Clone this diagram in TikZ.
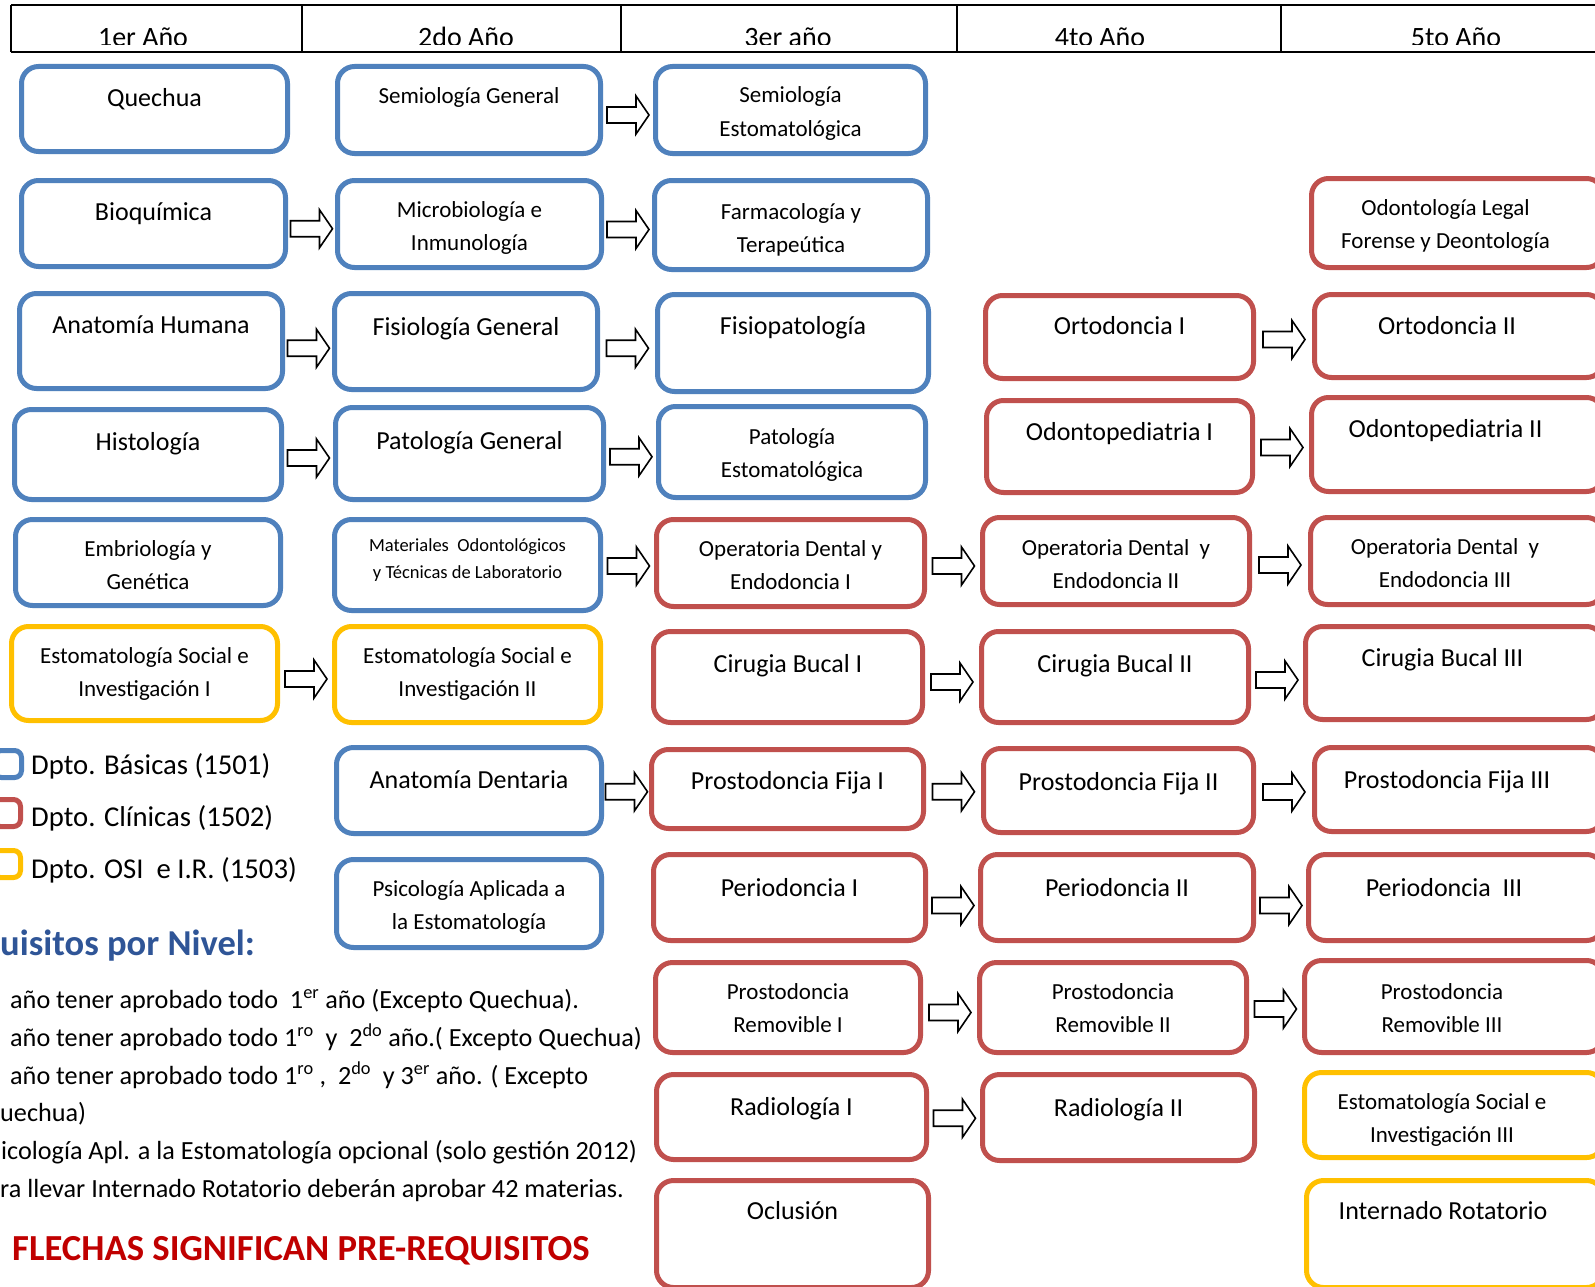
\documentclass[tikz,border=0pt]{standalone}
\usepackage{fontspec}
\setmainfont{Carlito}
\usetikzlibrary{calc}
\definecolor{azul}{HTML}{4F81BD}
\definecolor{rojo}{HTML}{C0504D}
\definecolor{amarillo}{HTML}{FFC000}
\definecolor{titulo}{HTML}{2F5597}
\definecolor{rojotexto}{HTML}{C00000}
\newcommand\corre{\hspace*{-24pt}}

\begin{document}
\begin{tikzpicture}[x=1pt,y=-1pt,
    caja/.style={draw,line width=5pt,rounded corners=17pt,fill=white,inner sep=0pt,align=center,font=\fontsize{23}{33}\selectfont},
    basica/.style={caja,draw=azul},
    clinica/.style={caja,draw=rojo},
    osi/.style={caja,draw=amarillo},
    grande/.style={font=\fontsize{26}{33}\selectfont},
    arriba/.style={text height=19pt,text depth=#1},
    arriba/.default=26pt,
    dos/.style={text height=#1,text depth=6pt},
    dos/.default=58pt,
    flecha/.pic={\draw[black,line width=1.6pt,fill=white,line join=miter] (-21,-8) -- (8,-8) -- (8,-19) -- (21,0) -- (8,19) -- (8,8) -- (-21,8) -- cycle;},
    encabezado/.style={anchor=base,inner sep=0pt,font=\fontsize{28}{34}\selectfont},
    leyenda/.style={anchor=base west,inner sep=0pt,font=\fontsize{28.7}{34}\selectfont},
    requisito/.style={anchor=base west,inner sep=0pt,font=\fontsize{26.2}{34}\selectfont}]
    \useasboundingbox (0,0) rectangle (1595,1287);
    \fill[white] (0,0) rectangle (1595,1287);
    \draw[line width=2pt] (11,5) -- (1600,5);
    \draw[line width=2pt] (11,52) -- (1600,52);
    \draw[line width=1.5pt] (11,5) -- (11,52);
    \draw[line width=1.5pt] (302,5) -- (302,52);
    \draw[line width=1.5pt] (621,5) -- (621,52);
    \draw[line width=1.5pt] (957,5) -- (957,52);
    \draw[line width=1.5pt] (1281,5) -- (1281,52);
    \begin{scope}
    \clip (11,5) rectangle (1595,45);
    \node[encabezado] (anio1) at (143,47) {1er Año};
    \node[encabezado] (anio2) at (466,47) {2do Año};
    \node[encabezado] (anio3) at (788,47) {3er año};
    \node[encabezado] (anio4) at (1100,47) {4to Año};
    \node[encabezado] (anio5) at (1456,47) {5to Año};
    \end{scope}
    \node[basica,grande,arriba=24pt,minimum width=266pt,minimum height=85pt] (quechua) at (154.5,109) {Quechua};
    \node[basica,grande,arriba=26pt,minimum width=264pt,minimum height=86pt] (bioquimica) at (153.5,223.5) {Bioquímica};
    \node[basica,grande,arriba=34pt,minimum width=263pt,minimum height=95pt] (anatomia) at (151,341) {Anatomía Humana};
    \node[basica,grande,arriba=28pt,minimum width=267pt,minimum height=90pt] (histologia) at (148,454.5) {Histología};
    \node[basica,dos=60pt,minimum width=265pt,minimum height=86pt] (embriologia) at (148,562.5) {Embriología y\\Genética};
    \node[osi,dos=52pt,minimum width=266pt,minimum height=94pt] (estsocial1) at (144.5,673.5) {Estomatología Social e\\Investigación I};
    \node[basica,arriba=32pt,minimum width=263pt,minimum height=87pt] (semiologia) at (469,110) {Semiología General};
    \node[basica,dos,minimum width=264pt,minimum height=87pt] (microbiologia) at (469.5,224) {Microbiología e\\Inmunología};
    \node[basica,grande,arriba=32pt,minimum width=263pt,minimum height=96pt] (fisiologia) at (466,341.5) {Fisiología General};
    \node[basica,grande,arriba=28pt,minimum width=268pt,minimum height=92pt] (patologia) at (469.5,453.5) {Patología General};
    \node[basica,font=\fontsize{18.5}{27}\selectfont,execute at end node={\rule[-12pt]{0pt}{0pt}},minimum width=266pt,minimum height=91pt] (materiales) at (467.5,565) {Materiales\ \ Odontológicos\\y Técnicas de Laboratorio};
    \node[osi,dos=50pt,minimum width=266pt,minimum height=96pt] (estsocial2) at (467.5,674.5) {Estomatología Social e\\Investigación II};
    \node[basica,grande,arriba=24pt,minimum width=265pt,minimum height=86pt] (anatdentaria) at (469,790.5) {Anatomía Dentaria};
    \node[basica,dos,minimum width=265pt,minimum height=88pt] (psicologia) at (469,903.5) {Psicología Aplicada a\\la Estomatología};
    \node[basica,dos,minimum width=270pt,minimum height=87pt] (semioestoma) at (790.5,110) {Semiología\\Estomatológica};
    \node[basica,dos=61pt,minimum width=273pt,minimum height=89pt] (farmacologia) at (791,225) {Farmacología y\\Terapeútica};
    \node[basica,grande,arriba=36pt,minimum width=271pt,minimum height=97pt] (fisiopatologia) at (793,343) {Fisiopatología};
    \node[basica,dos=56pt,minimum width=267pt,minimum height=91pt] (patoestoma) at (792,452) {Patología\\Estomatológica};
    \node[clinica,dos,minimum width=268pt,minimum height=87pt] (operatoria1) at (790.5,563) {Operatoria Dental y\\Endodoncia I};
    \node[clinica,grande,arriba=28pt,minimum width=269pt,minimum height=91pt] (cirugia1) at (788,677) {Cirugia Bucal I};
    \node[clinica,grande,arriba=18pt,minimum width=272pt,minimum height=79pt] (fija1) at (787.5,789) {Prostodoncia Fija I};
    \node[clinica,grande,arriba=22pt,minimum width=272pt,minimum height=86pt] (periodoncia1) at (789.5,897.5) {Periodoncia I};
    \node[clinica,dos=56pt,minimum width=265pt,minimum height=90pt] (removible1) at (788,1007.5) {Prostodoncia\\Removible I};
    \node[clinica,grande,arriba=22pt,minimum width=270pt,minimum height=85pt] (radiologia1) at (791.5,1117) {Radiología I};
    \node[clinica,grande,arriba=48pt,minimum width=272pt,minimum height=107pt] (oclusion) at (792.5,1234) {Oclusión};
    \node[clinica,grande,arriba=24pt,minimum width=268pt,minimum height=83pt] (ortodoncia1) at (1119.5,337) {Ortodoncia I};
    \node[clinica,grande,arriba=32pt,minimum width=266pt,minimum height=92pt] (odontoped1) at (1119.5,446.5) {Odontopediatria I};
    \node[clinica,dos=60pt,minimum width=267pt,minimum height=87pt] (operatoria2) at (1116,561) {Operatoria Dental\ \ y\\Endodoncia II};
    \node[clinica,grande,arriba=28pt,minimum width=267pt,minimum height=91pt] (cirugia2) at (1115,677) {Cirugia Bucal II};
    \node[clinica,grande,arriba=20pt,minimum width=270pt,minimum height=84pt] (fija2) at (1118.5,790.5) {Prostodoncia Fija II};
    \node[clinica,grande,arriba=22pt,minimum width=273pt,minimum height=86pt] (periodoncia2) at (1117,897.5) {Periodoncia II};
    \node[clinica,dos=56pt,minimum width=267pt,minimum height=90pt] (removible2) at (1113,1007.5) {Prostodoncia\\Removible II};
    \node[clinica,grande,arriba=22pt,minimum width=272pt,minimum height=86pt] (radiologia2) at (1118.5,1117.5) {Radiología II};
    \node[clinica,dos=56pt,minimum width=292pt,minimum height=89pt] (odlegal) at (1457.5,223) {\corre Odontología Legal\\\corre Forense y Deontología};
    \node[clinica,grande,arriba=22pt,minimum width=289pt,minimum height=83pt] (ortodoncia2) at (1459,336) {\corre Ortodoncia II};
    \node[clinica,grande,arriba=34pt,minimum width=292pt,minimum height=94pt] (odontoped2) at (1457.5,444.5) {\corre Odontopediatria II};
    \node[clinica,dos,minimum width=293pt,minimum height=87pt] (operatoria3) at (1457,561) {\corre Operatoria Dental\ \ y\\\corre Endodoncia III};
    \node[clinica,grande,arriba=32pt,minimum width=298pt,minimum height=93pt] (cirugia3) at (1454.5,673) {\corre Cirugia Bucal III};
    \node[clinica,grande,arriba=22pt,minimum width=289pt,minimum height=84pt] (fija3) at (1459,789.5) {\corre Prostodoncia Fija III};
    \node[clinica,grande,arriba=22pt,minimum width=295pt,minimum height=86pt] (periodoncia3) at (1456,897.5) {\corre Periodoncia\ \ III};
    \node[clinica,dos,minimum width=299pt,minimum height=92pt] (removible3) at (1454,1006.5) {\corre Prostodoncia\\\corre Removible III};
    \node[osi,dos=61pt,minimum width=299pt,minimum height=85pt] (estsocial3) at (1454,1115) {\corre Estomatología Social e\\\corre Investigación III};
    \node[osi,grande,arriba=48pt,minimum width=297pt,minimum height=107pt] (internado) at (1455,1234) {\corre Internado Rotatorio};
    \pic at ($(semiologia.east)!0.5!(semioestoma.west)+(0,5)$) {flecha};
    \pic at ($(bioquimica.east)!0.5!(microbiologia.west)+(0,5)$) {flecha};
    \pic at ($(microbiologia.east)!0.5!(farmacologia.west)+(0,5)$) {flecha};
    \pic at ($(anatomia.east)!0.5!(fisiologia.west)+(0,7)$) {flecha};
    \pic at ($(fisiologia.east)!0.5!(fisiopatologia.west)+(0,6)$) {flecha};
    \pic at ($(histologia.east)!0.5!(patologia.west)+(0,4)$) {flecha};
    \pic at ($(patologia.east)!0.5!(patoestoma.west)+(0,4)$) {flecha};
    \pic at ($(materiales.east)!0.5!(operatoria1.west)+(0,2)$) {flecha};
    \pic at ($(operatoria1.east)!0.5!(operatoria2.west)+(0,4)$) {flecha};
    \pic at ($(operatoria2.east)!0.5!(operatoria3.west)+(0,4)$) {flecha};
    \pic at ($(estsocial1.east)!0.5!(estsocial2.west)+(0,5)$) {flecha};
    \pic at ($(cirugia1.east)!0.5!(cirugia2.west)+(0,5)$) {flecha};
    \pic at ($(cirugia2.east)!0.5!(cirugia3.west)+(0,5)$) {flecha};
    \pic at ($(anatdentaria.east)!0.5!(fija1.west)+(0,2)$) {flecha};
    \pic at ($(fija1.east)!0.5!(fija2.west)+(0,2)$) {flecha};
    \pic at ($(fija2.east)!0.5!(fija3.west)+(0,2)$) {flecha};
    \pic at ($(periodoncia1.east)!0.5!(periodoncia2.west)+(0,8)$) {flecha};
    \pic at ($(periodoncia2.east)!0.5!(periodoncia3.west)+(0,8)$) {flecha};
    \pic at ($(removible1.east)!0.5!(removible2.west)+(0,5)$) {flecha};
    \pic at ($(removible2.east)!0.5!(removible3.west)+(0,2)$) {flecha};
    \pic at ($(radiologia1.east)!0.5!(radiologia2.west)+(0,1)$) {flecha};
    \pic at ($(ortodoncia1.east)!0.5!(ortodoncia2.west)+(0,3)$) {flecha};
    \pic at ($(odontoped1.east)!0.5!(odontoped2.west)+(0,2)$) {flecha};
    \node[basica,rounded corners=7pt,minimum size=27pt] (lbasica) at (8,764) {};
    \node[clinica,rounded corners=7pt,minimum size=27pt] (lclinica) at (7,813) {};
    \node[osi,rounded corners=7pt,minimum size=27pt] (losi) at (7,864) {};
    \node[leyenda] (tbasica) at (31,774) {Dpto. Básicas (1501)};
    \node[leyenda] (tclinica) at (31,826) {Dpto. Clínicas (1502)};
    \node[leyenda] (tosi) at (31,878) {Dpto. OSI\ \ e I.R. (1503)};
    \node[anchor=base west,inner sep=0pt,font=\fontsize{36.5}{40}\selectfont\bfseries,text=titulo] (nivel) at (0,955) {uisitos por Nivel:};
    \node[requisito] (req1) at (10,1008) {año tener aprobado todo\ \ 1\textsuperscript{er} año (Excepto Quechua).};
    \node[requisito] (req2) at (10,1046) {año tener aprobado todo 1\textsuperscript{ro}\ \ y\ \ 2\textsuperscript{do} año.( Excepto Quechua)};
    \node[requisito] (req3) at (10,1084) {año tener aprobado todo 1\textsuperscript{ro}\ ,\ \ 2\textsuperscript{do}\ \ y 3\textsuperscript{er} año. ( Excepto};
    \node[requisito] (req4) at (0,1121) {uechua)};
    \node[requisito] (req5) at (1,1159) {icología Apl. a la Estomatología opcional (solo gestión 2012)};
    \node[requisito] (req6) at (0,1197) {ra llevar Internado Rotatorio deberán aprobar 42 materias.};
    \node[anchor=base west,inner sep=0pt,font=\fontsize{36.7}{40}\selectfont\bfseries,text=rojotexto] (flechas) at (12,1260) {FLECHAS SIGNIFICAN PRE-REQUISITOS};
\end{tikzpicture}
\end{document}
